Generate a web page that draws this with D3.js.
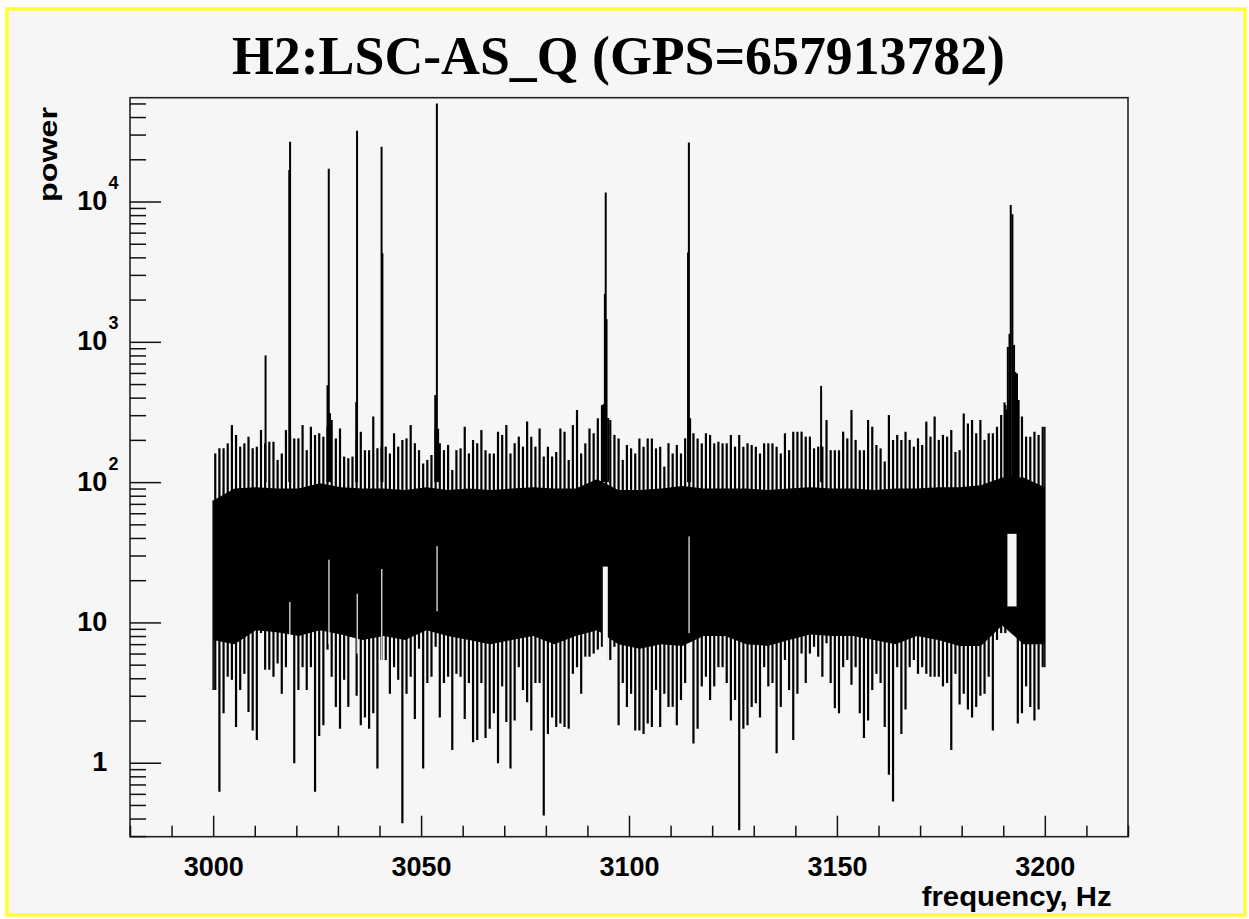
<!DOCTYPE html>
<html>
<head>
<meta charset="utf-8">
<script src="https://cdn.jsdelivr.net/npm/d3@7/dist/d3.min.js"></script>
<style>
  body { margin: 0; background: #ffffff; }
  svg { display: block; }
  .lbl { font-family: "Liberation Sans", Arial, sans-serif; font-weight: bold; fill: #000; }
</style>
</head>
<body>
<div id="plot"></div>
<script>
// spectrum: 1 Hz bins starting at 3000 Hz
const binStart = 3000;
const binWidth = 1;

// highest needle inside each 1 Hz bin
const needleTop = [
  160,174,174,189,255,217,179,189,211,174,
  179,235,189,194,194,144,160,235,211,205,
  205,255,169,248,217,223,211,250,277,205,
  241,152,148,152,200,229,169,169,293,174,
  179,179,160,223,179,200,205,255,189,169,
  136,144,156,240,189,169,184,122,169,174,
  248,160,200,189,235,169,160,160,229,217,
  255,160,189,211,179,270,211,179,241,152,
  179,152,164,241,229,144,255,327,160,189,
  241,223,285,354,285,277,217,205,144,184,
  174,160,205,179,205,205,174,179,129,189,
  160,184,160,205,285,223,205,189,223,217,
  189,194,189,189,217,179,217,179,189,184,
  179,160,189,189,189,179,160,223,169,229,
  229,229,211,211,174,179,179,277,169,169,
  169,229,205,327,200,169,169,277,248,184,
  174,140,301,200,217,200,229,200,179,205,
  184,270,211,293,200,217,211,235,164,169,
  309,262,277,223,277,200,223,223,248,301,
  354,380,380,385,293,211,211,229,217,248
];

// lowest needle inside each 1 Hz bin
const needleBottom = [
  3.3,0.62,2.25,4.1,3.9,1.8,3.3,4.3,2.3,1.7,
  1.45,8.4,4.6,4.6,4.1,5.1,3.1,4.8,8.4,0.99,
  3.3,4.8,3.3,4.8,0.62,1.55,1.85,6.4,4.1,2.5,
  1.75,3.9,2.5,8.4,3.0,1.85,2.1,1.75,2.25,0.91,
  5.4,5.4,3.1,4.8,3.9,0.37,3.1,4.1,2.05,6.5,
  0.91,3.7,4.1,6.7,2.1,3.7,4.1,1.23,4.3,4.1,
  2.05,3.7,1.4,1.45,3.7,1.5,1.75,2.25,0.99,3.5,
  1.95,0.91,2.0,4.8,3.3,2.7,1.7,3.7,3.7,0.42,
  1.6,2.1,1.8,1.9,1.8,1.75,4.3,4.8,3.1,5.7,
  5.7,6.0,6.4,6.7,5.4,5.4,6.7,1.85,3.7,2.5,
  3.1,1.7,1.7,1.6,1.9,1.8,3.3,1.8,3.1,2.5,
  2.5,1.85,2.8,3.7,8.4,1.37,1.75,3.5,4.1,2.8,
  3.5,4.8,4.8,3.7,2.0,2.8,0.33,1.75,1.85,2.5,
  2.65,2.1,4.8,3.5,3.7,1.17,2.5,5.4,3.3,1.45,
  3.1,6.0,3.7,6.0,6.7,5.7,4.1,7.1,3.7,2.45,
  2.25,4.8,5.4,3.6,4.8,2.25,1.5,2.0,3.3,4.3,
  3.7,1.8,0.82,0.53,4.8,1.6,2.4,4.8,5.4,4.3,
  4.8,4.3,4.1,4.1,4.1,3.5,3.7,1.23,4.3,2.6,
  3.1,2.4,2.1,2.5,3.0,3.1,4.1,1.7,7.5,8.4,
  8.4,13,13,1.9,2.25,3.5,2.5,2.0,2.4,4.8
];

// solid black band, sampled evenly from 3000 to 3200 Hz
const coreTop = [
  74,90,92,90,90,98,92,90,90,88,
  92,88,90,88,90,92,90,90,105,88,
  88,90,94,90,90,90,88,90,92,90,
  90,88,90,90,92,92,95,108,108,92
];
const coreBottom = [
  7.5,7,8.8,8.5,8,8.8,8.2,7.5,8,7.5,
  8.8,8,7.5,7,7.5,8,7,8,8.8,7,
  6.5,7,6.8,8,8,7,6.8,7.5,8.2,8,
  8,7.5,7,8,7.5,6.8,6.8,9.5,7,7
];

// narrow lines: [frequency, top, foot]
const peaks = [
  [3012.6, 800, 100],
  [3018.3, 16800, 100], [3018.5, 26700, 100],
  [3027.5, 490, 100], [3027.8, 17100, 100], [3028.1, 310, 100],
  [3034.4, 372, 100], [3034.6, 32000, 100],
  [3040.5, 24600, 100], [3040.7, 4270, 100],
  [3053.4, 417, 100], [3053.8, 50000, 100], [3054.1, 240, 100],
  [3093.9, 360, 100], [3094.2, 2190, 100], [3094.4, 11600, 100], [3094.6, 1450, 100], [3095.0, 286, 100],
  [3114.2, 4340, 100], [3114.4, 26300, 100], [3114.7, 285, 100],
  [3146.2, 485, 100],
  [3190.3, 370, 100], [3190.8, 330, 100], [3191.1, 920, 43], [3191.5, 1140, 43],
  [3191.8, 9440, 43], [3192.2, 8100, 43], [3192.6, 950, 43], [3192.9, 610, 43],
  [3193.3, 595, 43], [3193.7, 385, 100]
];

// empty gaps under the lines: [from Hz, to Hz, top, bottom]
const notches = [
  [3018.3, 3018.5, 14, 5],
  [3027.7, 3027.9, 28, 7],
  [3034.5, 3034.7, 16, 6],
  [3040.4, 3040.6, 24, 5.4],
  [3053.7, 3053.9, 35, 12],
  [3093.7, 3094.9, 25, 5.1],
  [3114.3, 3114.55, 41, 8.4],
  [3191.0, 3193.2, 43, 13]
];

const xMajorTicks = [3000, 3050, 3100, 3150, 3200];
const yMajorTicks = [1, 10, 100, 1000, 10000];
const yTickBase = ["1", "10", "10", "10", "10"];
const yTickExp = ["", "", "2", "3", "4"];

const W = 1249, H = 919;
const panelColor = "#f6f6f6";
const margin = { top: 97.7, left: 130, right: 121, bottom: 82.3 };
const plotW = W - margin.left - margin.right;
const plotH = H - margin.top - margin.bottom;

const svg = d3.select("#plot").append("svg")
  .attr("width", W)
  .attr("height", H);

// yellow canvas border
svg.append("rect")
  .attr("x", 7).attr("y", 9)
  .attr("width", 1238).attr("height", 906)
  .attr("fill", panelColor)
  .attr("stroke", "#ffff33")
  .attr("stroke-width", 3.5);

svg.append("text")
  .attr("x", 618.5).attr("y", 74)
  .attr("text-anchor", "middle")
  .attr("textLength", 773)
  .attr("lengthAdjust", "spacingAndGlyphs")
  .style("font-family", "'Liberation Serif', 'DejaVu Serif', serif")
  .style("font-weight", "bold")
  .style("font-size", "54px")
  .text("H2:LSC-AS_Q (GPS=657913782)");

const g = svg.append("g").attr("transform", `translate(${margin.left},${margin.top})`);

const x = d3.scaleLinear().domain([2980, 3220]).range([0, plotW]);
const y = d3.scaleLog().domain([0.297, 54950]).range([plotH, 0]);

g.append("clipPath").attr("id", "clip")
  .append("rect").attr("width", plotW).attr("height", plotH);

const data = g.append("g").attr("clip-path", "url(#clip)");

// solid band
const coreStep = (binWidth * needleTop.length) / (coreTop.length - 1);
const core = coreTop.map((t, i) => ({ f: binStart + i * coreStep, hi: t, lo: coreBottom[i] }));
data.append("path")
  .datum(core)
  .attr("fill", "#000")
  .attr("d", d3.area().x(d => x(d.f)).y0(d => y(d.lo)).y1(d => y(d.hi)));

// one needle per bin
data.selectAll(".needle")
  .data(needleTop)
  .enter().append("line")
  .attr("class", "needle")
  .attr("x1", (d, i) => x(binStart + i * binWidth + binWidth / 2))
  .attr("x2", (d, i) => x(binStart + i * binWidth + binWidth / 2))
  .attr("y1", (d, i) => y(needleBottom[i]))
  .attr("y2", d => y(d))
  .attr("stroke", "#000")
  .attr("stroke-width", 2.2);

// edges of the data range
data.append("line")
  .attr("x1", x(binStart)).attr("x2", x(binStart))
  .attr("y1", y(needleBottom[0])).attr("y2", y(coreTop[0]))
  .attr("stroke", "#000").attr("stroke-width", 1.5);
data.append("line")
  .attr("x1", x(binStart + needleTop.length * binWidth)).attr("x2", x(binStart + needleTop.length * binWidth))
  .attr("y1", y(needleBottom[needleTop.length - 1])).attr("y2", y(needleTop[needleTop.length - 1]))
  .attr("stroke", "#000").attr("stroke-width", 1.5);

// gaps
data.selectAll(".notch")
  .data(notches)
  .enter().append("rect")
  .attr("class", "notch")
  .attr("x", d => x(d[0]))
  .attr("width", d => Math.max(1.2, x(d[1]) - x(d[0])))
  .attr("y", d => y(d[2]))
  .attr("height", d => y(d[3]) - y(d[2]))
  .attr("fill", panelColor);

// peaks
data.selectAll(".peak")
  .data(peaks)
  .enter().append("line")
  .attr("class", "peak")
  .attr("x1", d => x(d[0])).attr("x2", d => x(d[0]))
  .attr("y1", d => y(d[2])).attr("y2", d => y(d[1]))
  .attr("stroke", "#000")
  .attr("stroke-width", 2);

// frame
g.append("rect")
  .attr("width", plotW).attr("height", plotH)
  .attr("fill", "none")
  .attr("stroke", "#222")
  .attr("stroke-width", 1.6);

// x axis: ticks point into the frame
const xMinor = d3.range(2980, 3221, 10).filter(v => !xMajorTicks.includes(v));
g.append("g")
  .attr("transform", `translate(0,${plotH})`)
  .call(d3.axisBottom(x).tickValues(xMinor).tickSizeInner(-11).tickSizeOuter(0).tickFormat(""))
  .call(a => a.select(".domain").remove());

const xAxis = g.append("g")
  .attr("transform", `translate(0,${plotH})`)
  .call(d3.axisBottom(x).tickValues(xMajorTicks).tickSizeInner(-21).tickSizeOuter(0).tickPadding(20).tickFormat(d3.format("d")));
xAxis.select(".domain").remove();
xAxis.selectAll("text").attr("class", "lbl").style("font-size", "27px").attr("fill", "#000");

// y axis
const yMinor = y.ticks().filter(v => !yMajorTicks.includes(v));
g.append("g")
  .call(d3.axisLeft(y).tickValues(yMinor).tickSizeInner(-16).tickSizeOuter(0).tickFormat(""))
  .call(a => a.select(".domain").remove());
g.append("g")
  .call(d3.axisLeft(y).tickValues(yMajorTicks).tickSizeInner(-31).tickSizeOuter(0).tickFormat(""))
  .call(a => a.select(".domain").remove());

g.selectAll(".tick line").attr("stroke", "#111").attr("stroke-width", 1.5);

const yLabels = g.append("g");
yMajorTicks.forEach((v, i) => {
  yLabels.append("text")
    .attr("class", "lbl")
    .attr("x", -22.7)
    .attr("y", y(v) + 8.5)
    .attr("text-anchor", "end")
    .style("font-size", "27px")
    .text(yTickBase[i]);
  if (yTickExp[i]) {
    yLabels.append("text")
      .attr("class", "lbl")
      .attr("x", -21.5)
      .attr("y", y(v) - 12.5)
      .style("font-size", "18px")
      .text(yTickExp[i]);
  }
});

// axis titles
svg.append("text")
  .attr("class", "lbl")
  .attr("transform", "translate(57,107) rotate(-90)")
  .attr("text-anchor", "end")
  .attr("textLength", 95)
  .attr("lengthAdjust", "spacingAndGlyphs")
  .style("font-size", "25px")
  .text("power");

svg.append("text")
  .attr("class", "lbl")
  .attr("x", 1111.7).attr("y", 906)
  .attr("text-anchor", "end")
  .attr("textLength", 190)
  .attr("lengthAdjust", "spacingAndGlyphs")
  .style("font-size", "28px")
  .text("frequency, Hz");
</script>
</body>
</html>
